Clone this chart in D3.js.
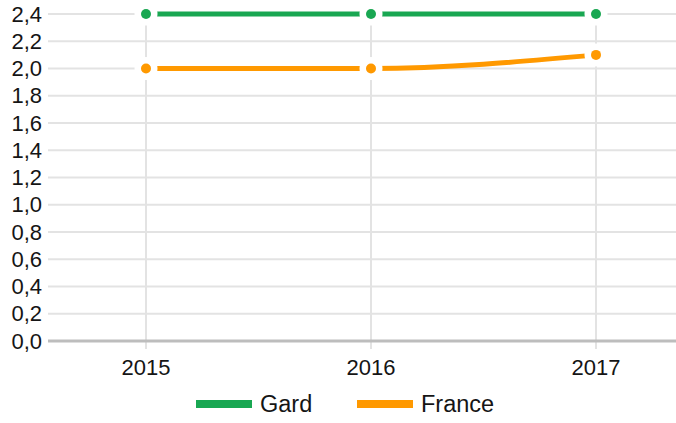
<!DOCTYPE html>
<html>
<head>
<meta charset="utf-8">
<script src="https://cdn.jsdelivr.net/npm/d3@7"></script>
<style>
  html, body { margin: 0; padding: 0; background: #fff; }
  svg { display: block; font-family: "Liberation Sans", Arial, sans-serif; }
</style>
</head>
<body>
<svg id="chart" width="676" height="423"></svg>
<script>
const years = ["2015", "2016", "2017"];
const gard = [2.4, 2.4, 2.4];
const france = [2.0, 2.0, 2.1];
const yTicks = [0, 0.2, 0.4, 0.6, 0.8, 1.0, 1.2, 1.4, 1.6, 1.8, 2.0, 2.2, 2.4];
const seriesNames = ["Gard", "France"];
const seriesColors = ["#19a752", "#ff9900"];

(function () {
  const svg = d3.select("#chart");
  const plotLeft = 48, plotRight = 676, plotTop = 14, plotBottom = 341;

  const x = d3.scalePoint().domain(years).range([146, 596]);
  const y = d3.scaleLinear().domain([0, 2.4]).range([plotBottom, plotTop]);
  const fmt = v => d3.format(".1f")(v).replace(".", ",");

  // horizontal grid
  svg.append("g").selectAll("line").data(yTicks.filter(d => d > 0)).join("line")
    .attr("x1", plotLeft).attr("x2", plotRight)
    .attr("y1", d => y(d)).attr("y2", d => y(d))
    .attr("stroke", "#e3e3e3").attr("stroke-width", 2);

  // vertical grid
  svg.append("g").selectAll("line").data(years).join("line")
    .attr("x1", d => x(d)).attr("x2", d => x(d))
    .attr("y1", plotTop).attr("y2", plotBottom + 8)
    .attr("stroke", "#e3e3e3").attr("stroke-width", 2);

  // baseline
  svg.append("line")
    .attr("x1", plotLeft).attr("x2", plotRight)
    .attr("y1", y(0)).attr("y2", y(0))
    .attr("stroke", "#bdbdbd").attr("stroke-width", 3);

  // y tick labels
  svg.append("g").selectAll("text").data(yTicks).join("text")
    .attr("x", 42).attr("y", d => y(d))
    .attr("dy", "0.35em").attr("text-anchor", "end")
    .attr("font-size", 22).attr("fill", "#151515")
    .text(fmt);

  // x tick labels
  svg.append("g").selectAll("text").data(years).join("text")
    .attr("x", d => x(d)).attr("y", 367)
    .attr("dy", "0.35em").attr("text-anchor", "middle")
    .attr("font-size", 22).attr("fill", "#151515")
    .text(d => d);

  const data = [gard, france];
  const line = d3.line()
    .x((d, i) => x(years[i]))
    .y(d => y(d))
    .curve(d3.curveMonotoneX);

  const series = svg.append("g");
  data.forEach((vals, k) => {
    series.append("path")
      .attr("d", line(vals))
      .attr("fill", "none")
      .attr("stroke", seriesColors[k])
      .attr("stroke-width", 5);
  });

  // markers with white halo
  data.forEach((vals, k) => {
    svg.append("g").selectAll("circle").data(vals).join("circle")
      .attr("cx", (d, i) => x(years[i]))
      .attr("cy", d => y(d))
      .attr("r", 5)
      .attr("fill", seriesColors[k])
      .attr("stroke", "#fff")
      .attr("stroke-width", 13)
      .attr("paint-order", "stroke");
  });

  // legend
  const legendX = [196, 357];
  const legend = svg.append("g");
  seriesNames.forEach((name, k) => {
    legend.append("line")
      .attr("x1", legendX[k]).attr("x2", legendX[k] + 56)
      .attr("y1", 404).attr("y2", 404)
      .attr("stroke", seriesColors[k]).attr("stroke-width", 8);
    legend.append("text")
      .attr("x", legendX[k] + 64).attr("y", 404)
      .attr("dy", "0.35em")
      .attr("font-size", 23.5).attr("fill", "#151515")
      .text(name);
  });
})();
</script>
</body>
</html>
